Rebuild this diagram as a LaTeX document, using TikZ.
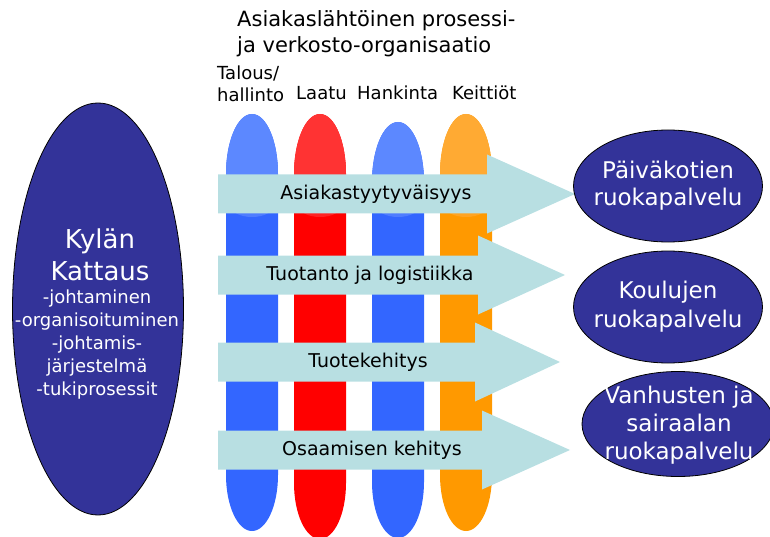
\documentclass[tikz,border=0pt]{standalone}
\usepackage{fontspec}
\setmainfont{DejaVu Sans}
\usetikzlibrary{shapes.geometric}

\definecolor{navy}{HTML}{333399}
\definecolor{band}{HTML}{B8DFE2}
\definecolor{blueL}{HTML}{5C88FF}
\definecolor{blueD}{HTML}{3366FF}
\definecolor{redL}{HTML}{FF3333}
\definecolor{redD}{HTML}{FF0000}
\definecolor{orangeL}{HTML}{FFAA33}
\definecolor{orangeD}{HTML}{FF9900}

\begin{document}
\begin{tikzpicture}[
  x=1pt, y=-1pt,
  oval/.style={
    draw, ellipse, fill=navy, line width=.8pt,
    inner sep=0pt,
  },
  ovaltext/.style={
    text=white, align=center, inner sep=0pt,
  },
  bandtext/.style={font=\fontsize{19}{23}\selectfont},
  head/.style={anchor=base west, align=left, inner sep=0pt},
]

  \useasboundingbox (0,0) rectangle (770,537);

  \def\barPath{
    (\xa,\ya+60) arc [start angle=180, end angle=360, x radius=26, y radius=60]
    -- (\xa+52,\yb-56) arc [start angle=0, end angle=180, x radius=26, y radius=56]
    -- cycle
  }
  \def\drawBar{
    \fill [\colD] \barPath;
    \begin{scope}
      \clip \barPath;
      \fill [\colL] (\xa,\ya) rectangle (\xa+52,200);
      \fill [\colL, opacity=.7] (\xa+26,205) ellipse [x radius=22, y radius=12];
    \end{scope}
  }

  \def\xa{226}\def\ya{114}\def\yb{531}\def\colL{blueL}\def\colD{blueD}\drawBar
  \def\xa{294}\def\ya{114}\def\yb{539}\def\colL{redL}\def\colD{redD}\drawBar
  \def\xa{372}\def\ya{122}\def\yb{538}\def\colL{blueL}\def\colD{blueD}\drawBar
  \def\xa{440}\def\ya{114}\def\yb{531}\def\colL{orangeL}\def\colD{orangeD}\drawBar

  \def\drawBand{
    \fill [band] (218,\yc-19.5) -- (\hx,\yc-19.5) -- (\hx,\yc-39.5) -- (\tx,\yc)
      -- (\hx,\yc+39.5) -- (\hx,\yc+19.5) -- (218,\yc+19.5) -- cycle;
  }

  \def\yc{194}\def\hx{487}\def\tx{575}\drawBand
  \node [bandtext] (asiakas) at (376,\yc) {Asiakastyytyväisyys};

  \def\yc{275}\def\hx{478}\def\tx{565}\drawBand
  \node [bandtext] (tuotanto) at (370,\yc) {Tuotanto ja logistiikka};

  \def\yc{362}\def\hx{475}\def\tx{560}\drawBand
  \node [bandtext] (tuote) at (368,\yc) {Tuotekehitys};

  \def\yc{450}\def\hx{482}\def\tx{570}\drawBand
  \node [bandtext] (osaaminen) at (372,\yc) {Osaamisen kehitys};

  % titles
  \node [head, font=\fontsize{21}{26}\selectfont] (otsikko) at (237,53)
    {Asiakaslähtöinen prosessi-\\ja verkosto-organisaatio};
  \node [head, font=\fontsize{18}{22}\selectfont] (talous) at (217,102) {Talous/\\hallinto};
  \node [head, font=\fontsize{18}{22}\selectfont] (laatu) at (296,100) {Laatu};
  \node [head, font=\fontsize{18}{22}\selectfont] (hankinta) at (357,100) {Hankinta};
  \node [head, font=\fontsize{18}{22}\selectfont] (keittiot) at (452,100) {Keittiöt};

  % ovals
  \node [oval, minimum width=171, minimum height=412] (kyla) at (98,309) {};
  \node [ovaltext, anchor=base, font=\fontsize{26}{32}\selectfont] (kylanimi) at (100,280)
    {Kylän\\Kattaus};
  \node [ovaltext, anchor=base, font=\fontsize{18}{23}\selectfont] (kylalista) at (97,395)
    {-johtaminen\\-organisoituminen\\-johtamis-\\järjestelmä\\-tukiprosessit};

  \node [oval, minimum width=189, minimum height=112] (paivakoti) at (668,186) {};
  \node [oval, minimum width=189, minimum height=112] (koulu) at (668,307) {};
  \node [oval, minimum width=192, minimum height=105] (vanhus) at (678,424) {};

  \node [ovaltext, font=\fontsize{23}{27}\selectfont] at (paivakoti.center) {Päiväkotien\\ruokapalvelu};
  \node [ovaltext, font=\fontsize{23}{29}\selectfont] at (koulu.center) {Koulujen\\ruokapalvelu};
  \node [ovaltext, font=\fontsize{23}{28}\selectfont] at (679,425) {Vanhusten ja\\sairaalan\\ruokapalvelu};

\end{tikzpicture}
\end{document}
